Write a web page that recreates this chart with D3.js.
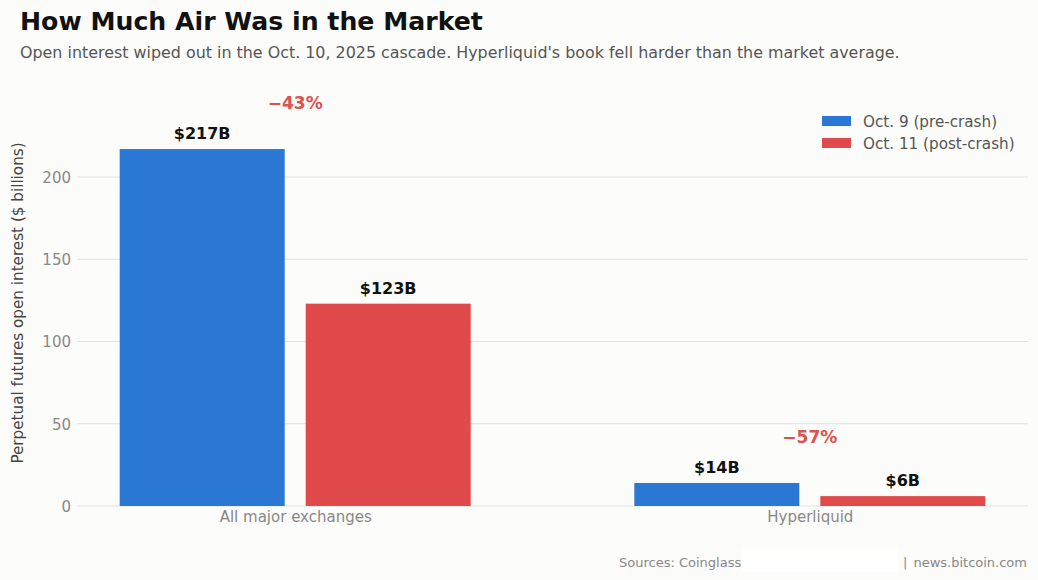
<!DOCTYPE html>
<html><head><meta charset="utf-8">
<script src="https://cdn.jsdelivr.net/npm/d3@7"></script>
<style>
html,body{margin:0;padding:0;background:#fcfcfa;}
svg{display:block;font-family:"DejaVu Sans",sans-serif;}
</style></head>
<body>
<script>
const categories = ["All major exchanges", "Hyperliquid"];
const seriesNames = ["Oct. 9 (pre-crash)", "Oct. 11 (post-crash)"];
const preCrash = [217, 14];
const postCrash = [123, 6];
const changeLabels = ["\u221243%", "\u221257%"];
const valueLabels = [["$217B", "$123B"], ["$14B", "$6B"]];
const yTicks = [0, 50, 100, 150, 200];
const colors = ["#2a77d4", "#e04a4a"];

const W = 1038, H = 580;
const svg = d3.select("body").append("svg").attr("width", W).attr("height", H);
svg.append("rect").attr("width", W).attr("height", H).attr("fill", "#fcfcfa");

const left = 77, right = 1028, y0px = 506;
const y = d3.scaleLinear().domain([0, 200]).range([y0px, 177]);
const x = d3.scalePoint().domain(categories).range([left, right]).padding(0.424);
const xs = d3.scaleBand().domain(seriesNames).range([-175.5, 175.5]).paddingInner(0.113).paddingOuter(0);

// Title
svg.append("text").attr("x", 20).attr("y", 30).attr("font-size", 25.2).attr("font-weight", "bold")
  .attr("fill", "#111").text("How Much Air Was in the Market");
svg.append("text").attr("x", 20).attr("y", 58).attr("font-size", 15.9).attr("fill", "#555")
  .text("Open interest wiped out in the Oct. 10, 2025 cascade. Hyperliquid's book fell harder than the market average.");

// Gridlines
const g = svg.append("g");
g.selectAll("line.grid").data(yTicks).join("line")
  .attr("x1", left).attr("x2", right)
  .attr("y1", d => y(d)).attr("y2", d => y(d))
  .attr("stroke", "#e2e2e2").attr("stroke-width", 1);

// Y axis via d3.axisLeft
const yAxis = d3.axisLeft(y).tickValues(yTicks).tickSize(0).tickPadding(0);
const ya = svg.append("g").attr("transform", `translate(71,0)`).call(yAxis);
ya.select(".domain").remove();
ya.selectAll("text").attr("font-size", 15).attr("fill", "#888").attr("font-family", "DejaVu Sans").attr("dy", "0.35em");

svg.append("text").attr("transform", "translate(23,303) rotate(-90)").attr("text-anchor", "middle")
  .attr("font-size", 15.2).attr("fill", "#444").text("Perpetual futures open interest ($ billions)");

// Bars
const data = categories.map((c, i) => ({cat: c, vals: [preCrash[i], postCrash[i]], i}));
const groups = svg.selectAll("g.grp").data(data).join("g").attr("class", "grp")
  .attr("transform", d => `translate(${x(d.cat)},0)`);
groups.selectAll("rect").data(d => d.vals.map((v, k) => ({v, k, i: d.i}))).join("rect")
  .attr("x", d => xs(seriesNames[d.k])).attr("width", xs.bandwidth())
  .attr("y", d => y(d.v)).attr("height", d => y0px - y(d.v))
  .attr("fill", d => colors[d.k]);
groups.selectAll("text.val").data(d => d.vals.map((v, k) => ({v, k, i: d.i}))).join("text")
  .attr("class", "val")
  .attr("x", d => xs(seriesNames[d.k]) + xs.bandwidth() / 2)
  .attr("y", d => y(d.v) - 10)
  .attr("text-anchor", "middle").attr("font-size", 16).attr("font-weight", "bold").attr("fill", "#111")
  .text(d => valueLabels[d.i][d.k]);
groups.append("text").attr("x", 0).attr("y", d => y(d3.max(d.vals)) - 40)
  .attr("text-anchor", "middle").attr("font-size", 17).attr("font-weight", "bold").attr("fill", "#d9534f")
  .text(d => changeLabels[d.i]);

// X axis labels
const xAxis = d3.axisBottom(x).tickSize(0).tickPadding(0);
const xa = svg.append("g").attr("transform", `translate(0,${y0px + 5})`).call(xAxis);
xa.select(".domain").remove();
xa.selectAll("text").attr("font-size", 15).attr("fill", "#888").attr("font-family", "DejaVu Sans").attr("dy", "0.71em");

// Legend
const lg = svg.append("g").attr("transform", "translate(822,116)");
seriesNames.forEach((s, k) => {
  lg.append("rect").attr("x", 0).attr("y", k * 22).attr("width", 29).attr("height", 10).attr("fill", colors[k]);
  lg.append("text").attr("x", 41).attr("y", k * 22 + 10.5).attr("font-size", 15.2).attr("fill", "#555").text(s);
});

// Footer
svg.append("text").attr("x", 619).attr("y", 567).attr("font-size", 13).attr("fill", "#888").text("Sources: Coinglass");
svg.append("rect").attr("x", 742).attr("y", 549).attr("width", 156).attr("height", 23).attr("fill", "#ffffff");
svg.append("text").attr("x", 903).attr("y", 567).attr("font-size", 13).attr("fill", "#888").text("|");
svg.append("text").attr("x", 1027).attr("y", 567).attr("text-anchor", "end").attr("font-size", 13).attr("fill", "#888").text("news.bitcoin.com");
</script>
</body></html>
